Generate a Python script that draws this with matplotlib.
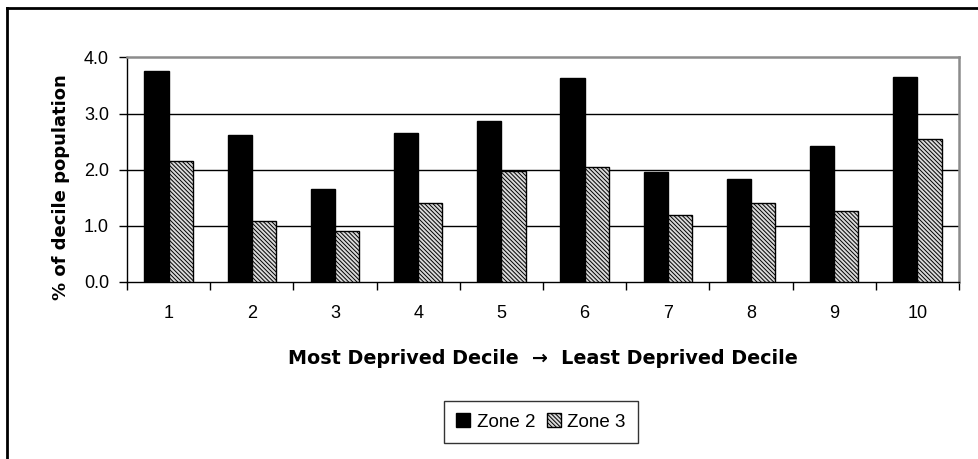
import matplotlib
matplotlib.use("Agg")
import matplotlib.pyplot as plt
from matplotlib.lines import Line2D
import numpy as np

deciles = ["1", "2", "3", "4", "5", "6", "7", "8", "9", "10"]
zone2 = [3.76, 2.62, 1.66, 2.66, 2.87, 3.63, 1.95, 1.84, 2.42, 3.66]
zone3 = [2.15, 1.08, 0.91, 1.40, 1.97, 2.05, 1.19, 1.41, 1.27, 2.54]
series_names = ["Zone 2", "Zone 3"]
yticks = [0.0, 1.0, 2.0, 3.0, 4.0]
xlabel = "Most Deprived Decile  \u2192  Least Deprived Decile"
ylabel = "% of decile population"

plt.rcParams['font.family'] = ['Liberation Sans', 'DejaVu Sans']
plt.rcParams['hatch.linewidth'] = 0.7
plt.rcParams['hatch.color'] = '#1a1a1a'

W, H = 979, 459
fig = plt.figure(figsize=(W / 100, H / 100), dpi=100)

# outer chart border (left and top visible)
fig.add_artist(Line2D([7.5 / W, 7.5 / W], [0, 1 - 7.5 / H], transform=fig.transFigure,
                      color='black', lw=2))
fig.add_artist(Line2D([7.5 / W, 1], [1 - 7.5 / H, 1 - 7.5 / H], transform=fig.transFigure,
                      color='black', lw=2))

left, right = 127 / W, 959 / W
bottom, top = 1 - 281.7 / H, 1 - 57.5 / H
ax = fig.add_axes([left, bottom, right - left, top - bottom])

x = np.arange(1, len(deciles) + 1)
bw = 0.29
ax.bar(x - bw / 2, zone2, bw, color='black', edgecolor='black', lw=1, label=series_names[0], zorder=3)
ax.bar(x + bw / 2, zone3, bw, color='#d9d9d9', edgecolor='black', lw=1, hatch='\\' * 8,
       label=series_names[1], zorder=3)

ax.set_xlim(0.5, len(deciles) + 0.5)
ax.set_ylim(0, 4.0)
ax.set_yticks(yticks)
ax.set_yticklabels([f"{v:.1f}" for v in yticks])
ax.set_xticks(np.arange(0.5, len(deciles) + 1, 1.0))
ax.set_xticklabels([])
ax.set_xticks(x, minor=True)
ax.set_xticklabels(deciles, minor=True)
ax.tick_params(axis='x', which='major', direction='out', length=6, width=1, color='black')
ax.tick_params(axis='x', which='minor', length=0, pad=17, labelsize=13)
ax.tick_params(axis='y', direction='out', length=6, width=1, pad=7, labelsize=13)

for v in [1.0, 2.0, 3.0]:
    ax.axhline(v, color='black', lw=1, zorder=1)

ax.spines['left'].set_color('black')
ax.spines['bottom'].set_color('black')
ax.spines['top'].set_color('#8c8c8c')
ax.spines['right'].set_color('#8c8c8c')
for s in ['top', 'right']:
    ax.spines[s].set_linewidth(1.8)
ax.spines['left'].set_linewidth(1)
ax.spines['bottom'].set_linewidth(1)

ax.set_xlabel(xlabel, fontsize=13.8, fontweight='bold', labelpad=19,
              family=['DejaVu Sans'])
ax.set_ylabel(ylabel, fontsize=13, fontweight='bold', family=['DejaVu Sans'])
ax.yaxis.set_label_coords((70 - 127) / 832, 0.42)

leg = fig.legend(loc='center', bbox_to_anchor=(541 / W, 1 - 422 / H), ncol=2, frameon=True,
                 fancybox=False, edgecolor='black', fontsize=13.5, handlelength=0.75,
                 handleheight=0.75, handletextpad=0.35, columnspacing=0.6, borderpad=0.65,
                 borderaxespad=0)
leg.get_frame().set_linewidth(1)

fig.savefig("out.png", dpi=100)
